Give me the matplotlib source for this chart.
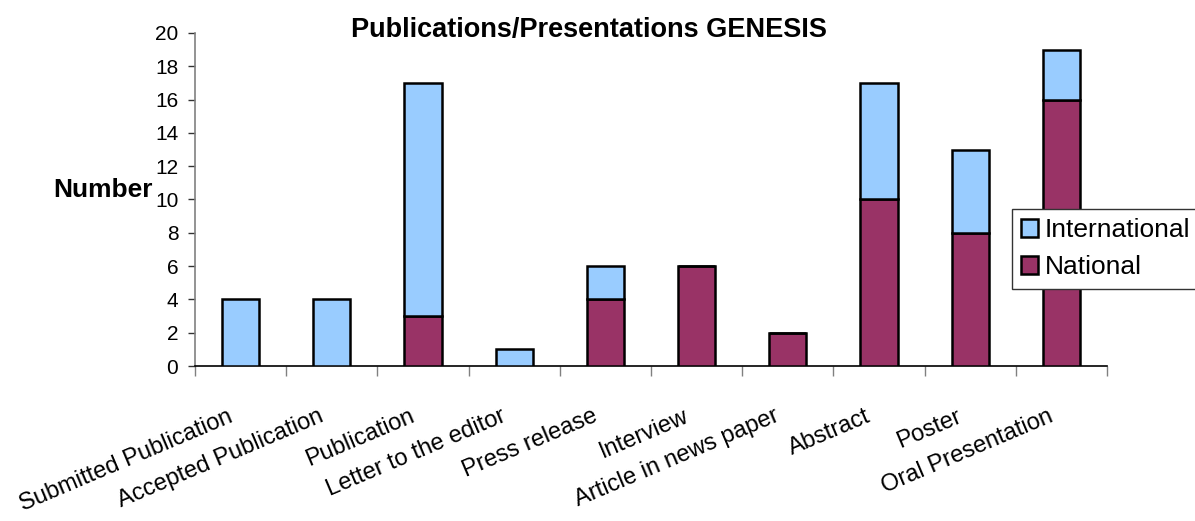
import matplotlib
matplotlib.use("Agg")
import matplotlib.pyplot as plt
from matplotlib.patches import Patch
from matplotlib.transforms import ScaledTranslation, blended_transform_factory
import numpy as np

categories = ["Submitted Publication", "Accepted Publication", "Publication",
              "Letter to the editor", "Press release", "Interview",
              "Article in news paper", "Abstract", "Poster", "Oral Presentation"]
national = [0, 0, 3, 0, 4, 6, 2, 10, 8, 16]
international = [4, 4, 14, 1, 2, 0, 0, 7, 5, 3]
yticks = [0, 2, 4, 6, 8, 10, 12, 14, 16, 18, 20]

c_int = "#99CCFF"
c_nat = "#993366"

W, H, DPI = 1195, 521, 100
fig = plt.figure(figsize=(W / DPI, H / DPI), dpi=DPI)
ax = fig.add_axes([195 / W, 1 - 366 / H, (1107 - 195) / W, (366 - 33) / H])

x = np.arange(len(categories))
bw = 0.41
ax.bar(x, national, bw, color=c_nat, edgecolor="black", linewidth=1.8, zorder=3)
ax.bar(x, international, bw, bottom=national, color=c_int, edgecolor="black",
       linewidth=1.8, zorder=3)

ax.set_xlim(-0.5, len(categories) - 0.5)
ax.set_ylim(0, 20)
ax.set_yticks(yticks)
ax.set_yticklabels([str(v) for v in yticks], fontsize=15, family="Liberation Sans")
ax.set_xticks(np.arange(len(categories) + 1) - 0.5)
ax.set_xticklabels([])
ax.tick_params(axis="y", direction="out", length=5, width=1, color="#333333", pad=7)
ax.tick_params(axis="x", direction="out", length=7, width=1, color="#808080")

for s in ["top", "right"]:
    ax.spines[s].set_visible(False)
ax.spines["left"].set_color("#808080")
ax.spines["left"].set_linewidth(1.2)
ax.spines["bottom"].set_color("black")
ax.spines["bottom"].set_linewidth(1.2)

trans = blended_transform_factory(ax.transData, ax.transAxes) + \
    ScaledTranslation(-7 / DPI, -55 / DPI, fig.dpi_scale_trans)
for xi, lab in zip(x, categories):
    ax.text(xi, 0, lab, transform=trans, rotation=23, rotation_mode="anchor",
            ha="right", va="baseline", fontsize=17, family="Liberation Sans")

fig.text(589 / W, 1 - 30 / H, "Publications/Presentations GENESIS",
         ha="center", va="center", fontsize=19.5, fontweight="bold",
         family="Liberation Sans")
fig.text(153 / W, 1 - 190 / H, "Number", ha="right", va="center",
         fontsize=19, fontweight="bold", family="Liberation Sans")

handles = [Patch(facecolor=c_int, edgecolor="black", linewidth=1.8),
           Patch(facecolor=c_nat, edgecolor="black", linewidth=1.8)]
leg = fig.legend(handles, ["International", "National"], loc="upper left",
                 bbox_to_anchor=(1012 / W, 1 - 209 / H),
                 prop={"family": "Liberation Sans", "size": 19},
                 frameon=True, fancybox=False, framealpha=1,
                 handlelength=0.65, handleheight=0.65, handletextpad=0.25,
                 labelspacing=0.5, borderpad=0.35, borderaxespad=0)
leg.get_frame().set_edgecolor("#333333")
leg.get_frame().set_linewidth(1.0)
leg.set_zorder(10)

fig.savefig("out.png", dpi=DPI)
